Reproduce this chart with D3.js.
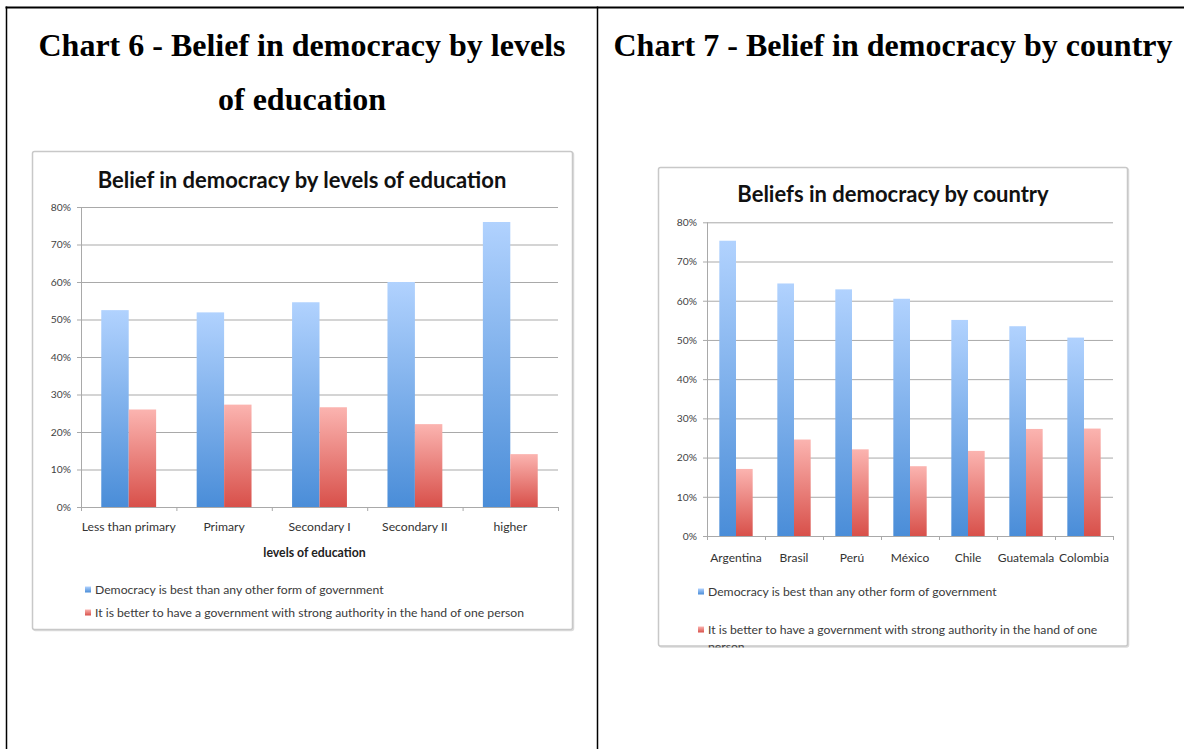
<!DOCTYPE html>
<html>
<head>
<meta charset="utf-8">
<script src="https://cdn.jsdelivr.net/npm/d3@7"></script>
<style>
  html, body { margin: 0; padding: 0; background: #fff; }
  svg { display: block; }
</style>
</head>
<body>
<svg id="page" width="1184" height="749"></svg>
<script>
// ---- data ----
const eduCategories = ["Less than primary", "Primary", "Secondary I", "Secondary II", "higher"];
const eduDemocracy = [52.5, 51.9, 54.6, 60.0, 76.0];
const eduStrongLeader = [26.0, 27.3, 26.6, 22.1, 14.1];

const countryCategories = ["Argentina", "Brasil", "Perú", "México", "Chile", "Guatemala", "Colombia"];
const countryDemocracy = [75.3, 64.4, 62.9, 60.5, 55.1, 53.5, 50.6];
const countryStrongLeader = [17.1, 24.6, 22.1, 17.8, 21.7, 27.3, 27.4];

const yTicks = [0, 10, 20, 30, 40, 50, 60, 70, 80];
const seriesNames = [
  "Democracy is best than any other form of government",
  "It is better to have a government with strong authority in the hand of one person"
];

// ---- page ----
const svg = d3.select("#page");
const defs = svg.append("defs");

function gradient(id, top, bottom) {
  const g = defs.append("linearGradient").attr("id", id)
    .attr("x1", 0).attr("y1", 0).attr("x2", 0).attr("y2", 1);
  g.append("stop").attr("offset", "0%").attr("stop-color", top);
  g.append("stop").attr("offset", "100%").attr("stop-color", bottom);
}
gradient("gBlue", "#b1d2fe", "#4a8dd8");
gradient("gRed", "#fbb4b0", "#d8504a");
const fills = ["url(#gBlue)", "url(#gRed)"];

// table rules
svg.append("line").attr("x1", 5.5).attr("x2", 1184).attr("y1", 7.5).attr("y2", 7.5)
  .attr("stroke", "#000").attr("stroke-width", 2);
svg.append("line").attr("x1", 6.5).attr("x2", 6.5).attr("y1", 6.5).attr("y2", 749)
  .attr("stroke", "#000").attr("stroke-width", 1.5);
svg.append("line").attr("x1", 597.5).attr("x2", 597.5).attr("y1", 6.5).attr("y2", 749)
  .attr("stroke", "#000").attr("stroke-width", 1.5);

// cell headings
const headFont = "'Liberation Serif', 'Times New Roman', serif";
function heading(lines, cx, y0, lh) {
  const t = svg.append("text").attr("font-family", headFont).attr("font-weight", "bold")
    .attr("font-size", 32).attr("text-anchor", "middle").attr("fill", "#000");
  lines.forEach((l, i) => t.append("tspan").attr("x", cx).attr("y", y0 + i * lh).text(l));
}
heading(["Chart 6 - Belief in democracy by levels", "of education"], 302, 56, 54);
heading(["Chart 7 - Belief in democracy by country"], 893, 56, 54);

// ---- chart builder ----
const chartFont = "Lato, 'Open Sans', sans-serif";

function wrapWords(textSel, words, maxW) {
  const lines = [];
  let cur = [];
  words.forEach(w => {
    const trial = cur.concat([w]).join(" ");
    textSel.text(trial);
    if (textSel.node().getComputedTextLength() > maxW && cur.length) {
      lines.push(cur.join(" "));
      cur = [w];
    } else cur.push(w);
  });
  if (cur.length) lines.push(cur.join(" "));
  textSel.text("");
  return lines;
}

function barChart(cfg) {
  const g = svg.append("g");
  const clipId = cfg.id + "Clip";
  defs.append("clipPath").attr("id", clipId).append("rect")
    .attr("x", cfg.box[0]).attr("y", cfg.box[1])
    .attr("width", cfg.box[2] - cfg.box[0]).attr("height", cfg.box[3] - cfg.box[1] + 1.5);

  // frame with a soft shadow
  g.append("rect").attr("x", cfg.box[0] + 1).attr("y", cfg.box[1] + 1)
    .attr("width", cfg.box[2] - cfg.box[0]).attr("height", cfg.box[3] - cfg.box[1])
    .attr("rx", 2).attr("fill", "none").attr("stroke", "#dcdcdc").attr("stroke-width", 1.5);
  g.append("rect").attr("x", cfg.box[0]).attr("y", cfg.box[1])
    .attr("width", cfg.box[2] - cfg.box[0]).attr("height", cfg.box[3] - cfg.box[1])
    .attr("rx", 2).attr("fill", "#fff").attr("stroke", "#c8c8c8").attr("stroke-width", 1.5);

  const inner = g.append("g").attr("clip-path", `url(#${clipId})`);

  const x = d3.scaleBand().domain(cfg.categories).range([cfg.plot[0], cfg.plot[2]]).padding(0);
  const y = d3.scaleLinear().domain([0, 80]).range([cfg.plot[3], cfg.plot[1]]);
  const groupW = x.step() * 0.575;
  const xs = d3.scaleBand().domain([0, 1]).range([0, groupW]).padding(0);

  // title
  inner.append("text").attr("x", cfg.titleX).attr("y", cfg.titleY)
    .attr("text-anchor", "middle").attr("font-family", chartFont).attr("font-weight", "bold")
    .attr("font-size", cfg.titleSize).attr("fill", "#111").text(cfg.title);

  // gridlines and y axis
  const yAxis = d3.axisLeft(y).tickValues(yTicks).tickFormat(d => d + "%")
    .tickSize(-(cfg.plot[2] - cfg.plot[0]) - 4).tickPadding(6);
  const ya = inner.append("g").attr("transform", `translate(${cfg.plot[0] - 4},0)`).call(yAxis);
  ya.select(".domain").remove();
  ya.selectAll(".tick line").attr("stroke", "#a9a9a9").attr("stroke-width", 1);
  ya.selectAll(".tick text").attr("font-family", chartFont).attr("font-size", cfg.tickSize)
    .attr("fill", "#3f3f3f");
  inner.append("line").attr("x1", cfg.plot[0] + 0.5).attr("x2", cfg.plot[0] + 0.5)
    .attr("y1", cfg.plot[1]).attr("y2", cfg.plot[3]).attr("stroke", "#a9a9a9");

  // bars
  const series = [cfg.seriesA, cfg.seriesB];
  series.forEach((vals, si) => {
    inner.append("g").selectAll("rect").data(cfg.categories).join("rect")
      .attr("x", (c) => x(c) + (x.step() - groupW) / 2 + xs(si))
      .attr("width", xs.bandwidth())
      .attr("y", (c, i) => y(vals[i]))
      .attr("height", (c, i) => y(0) - y(vals[i]))
      .attr("fill", fills[si]);
  });

  // x axis with tick marks between categories
  const xAxis = d3.axisBottom(x).tickSize(0).tickPadding(cfg.xLabelPad);
  const xa = inner.append("g").attr("transform", `translate(0,${y(0)})`).call(xAxis);
  xa.select(".domain").attr("stroke", "#a9a9a9");
  xa.selectAll(".tick text").attr("font-family", chartFont).attr("font-size", cfg.xLabelSize)
    .attr("fill", "#333");
  inner.append("g").selectAll("line").data(d3.range(cfg.categories.length + 1)).join("line")
    .attr("x1", i => cfg.plot[0] + i * x.step() + 0.5)
    .attr("x2", i => cfg.plot[0] + i * x.step() + 0.5)
    .attr("y1", y(0)).attr("y2", y(0) + 4).attr("stroke", "#a9a9a9");

  if (cfg.axisTitle) {
    inner.append("text").attr("x", (cfg.plot[0] + cfg.plot[2]) / 2 - 5).attr("y", cfg.axisTitleY)
      .attr("text-anchor", "middle").attr("font-family", chartFont).attr("font-weight", "bold")
      .attr("font-size", 12.3).attr("fill", "#222").text(cfg.axisTitle);
  }

  // legend
  seriesNames.forEach((name, si) => {
    const ly = cfg.legendY[si];
    inner.append("rect").attr("x", cfg.legendX).attr("y", ly - 3.5).attr("width", 6).attr("height", 6)
      .attr("fill", fills[si]);
    const t = inner.append("text").attr("font-family", chartFont).attr("font-size", cfg.legendSize)
      .attr("fill", "#3a3a3a");
    const lines = wrapWords(t, name.split(" "), cfg.legendMaxW);
    lines.forEach((l, li) => t.append("tspan").attr("x", cfg.legendX + 10)
      .attr("y", ly + 4 + li * cfg.legendLH).text(l));
  });
}

barChart({
  id: "edu",
  box: [32.5, 151.5, 572.5, 629.5],
  plot: [81, 207, 558, 507],
  title: "Belief in democracy by levels of education",
  titleX: 302, titleY: 188, titleSize: 22,
  tickSize: 10.3, xLabelSize: 12.2, xLabelPad: 15,
  categories: eduCategories, seriesA: eduDemocracy, seriesB: eduStrongLeader,
  axisTitle: "levels of education", axisTitleY: 557,
  legendX: 85, legendY: [590, 613], legendSize: 12.2, legendMaxW: 470, legendLH: 17
});

barChart({
  id: "country",
  box: [658.5, 167.5, 1127.5, 646],
  plot: [707, 222.3, 1113, 536],
  title: "Beliefs in democracy by country",
  titleX: 893, titleY: 202, titleSize: 22,
  tickSize: 10.3, xLabelSize: 12, xLabelPad: 17,
  categories: countryCategories, seriesA: countryDemocracy, seriesB: countryStrongLeader,
  axisTitle: null,
  legendX: 698, legendY: [592, 630], legendSize: 12.2, legendMaxW: 400, legendLH: 17
});
</script>
</body>
</html>
